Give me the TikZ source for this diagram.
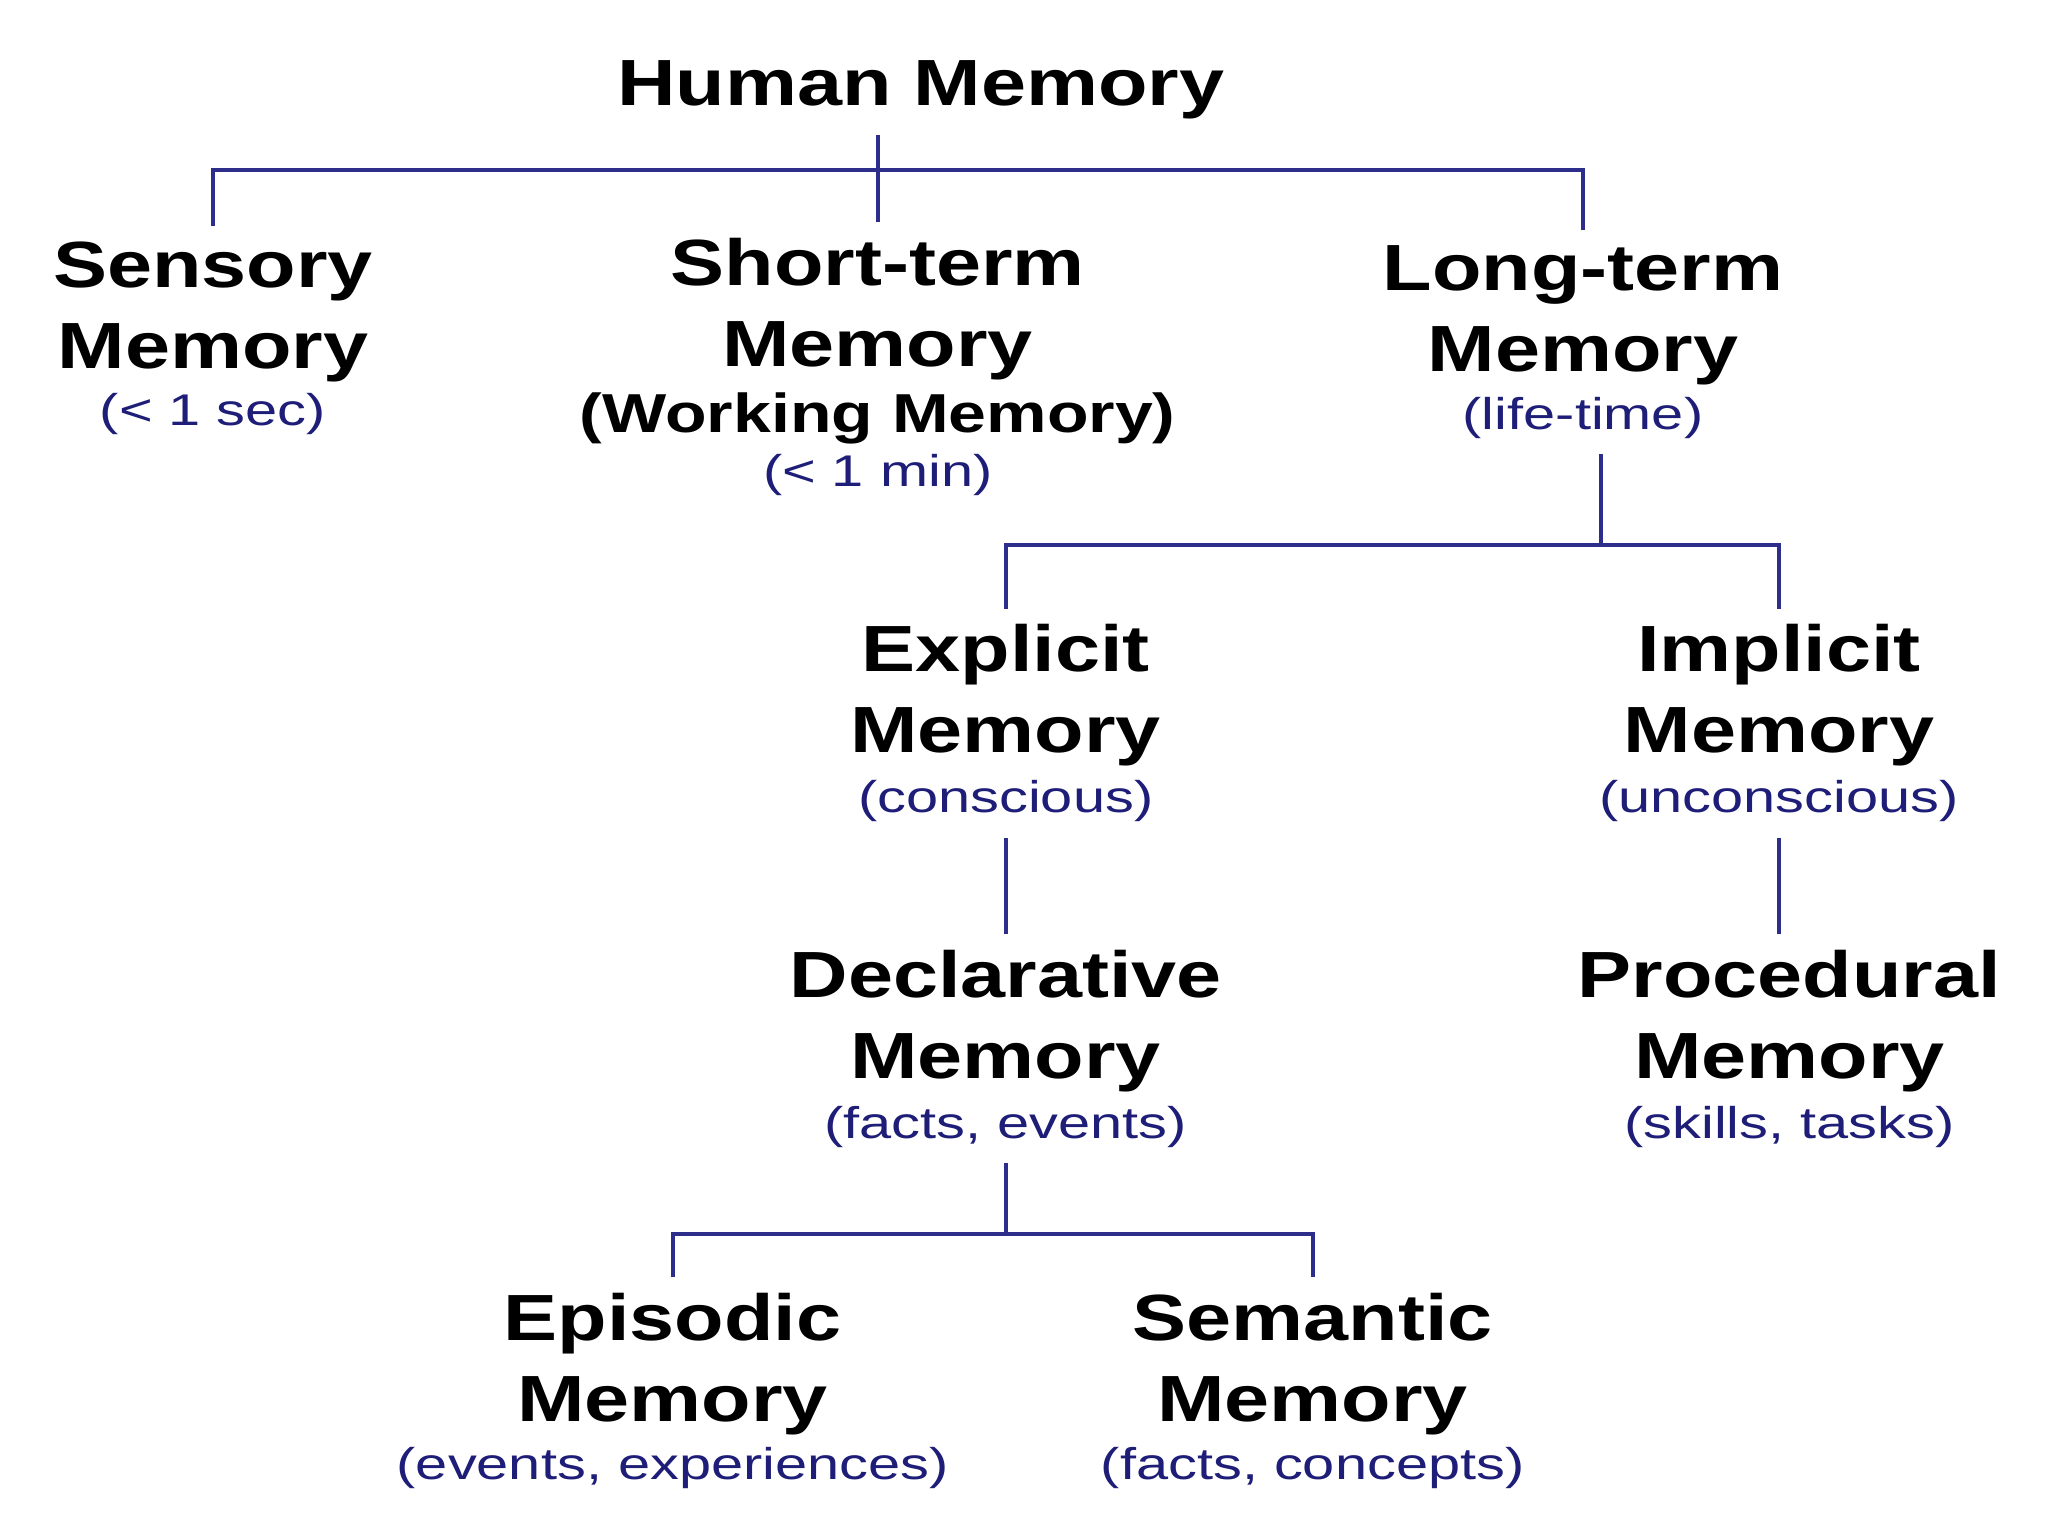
\documentclass[tikz,border=0pt]{standalone}
\usepackage{fontspec}
\setmainfont{Liberation Sans}
\newfontfamily\headfont[FakeStretch=1.24]{Liberation Sans}
\newfontfamily\subfont[FakeStretch=1.3]{Liberation Sans}
\usetikzlibrary{positioning, calc}

\newcommand{\sublabel}[1]{{\fontsize{34}{40}\selectfont\subfont\mdseries\color{subblue}#1}}
\newcommand{\altname}[1]{{\fontsize{42}{50}\selectfont #1}}

\begin{document}
\begin{tikzpicture}[x=1pt,y=-1pt,
    mem/.style={align=center, inner xsep=0pt, inner ysep=12pt, anchor=north,
        font=\fontsize{50}{62}\selectfont\headfont\bfseries},
    link/.style={draw=linkblue, line width=3pt}]

% Colors
\definecolor{linkblue}{RGB}{45,45,140}
\definecolor{subblue}{RGB}{30,30,120}

\useasboundingbox (0,0) rectangle (1568,1176);

% Title
\node[mem] (human) at (705,34) {Human Memory};

% First level
\node[mem] (sens) at (163,173) {Sensory\\Memory\\[-18pt]\sublabel{(< 1 sec)}};
\node[mem] (stm) at (672,170) {Short-term\\Memory\\[-11pt]\altname{(Working Memory)}\\[-21pt]\sublabel{(< 1 min)}};
\node[mem] (ltm) at (1212,176) {Long-term\\Memory\\[-18pt]\sublabel{(life-time)}};

% Long-term branches
\node[mem] (expl) at (770,466) {Explicit\\Memory\\[-16pt]\sublabel{(conscious)}};
\node[mem] (impl) at (1362,466) {Implicit\\Memory\\[-16pt]\sublabel{(unconscious)}};
\node[mem] (decl) at (770,715) {Declarative\\Memory\\[-16pt]\sublabel{(facts, events)}};
\node[mem] (proc) at (1370,715) {Procedural\\Memory\\[-16pt]\sublabel{(skills, tasks)}};

% Declarative branches
\node[mem] (epis) at (515,978) {Episodic\\Memory\\[-18pt]\sublabel{(events, experiences)}};
\node[mem] (sema) at (1005,978) {Semantic\\Memory\\[-18pt]\sublabel{(facts, concepts)}};

% Bars
\coordinate (topbar) at (0,130);
\coordinate (ltmbar) at (0,417);
\coordinate (declbar) at (0,945);

% Connections
\draw[link] (human.south -| stm.north) -- (stm.north);
\draw[link] (sens.north) -- (sens.north |- topbar) -| (ltm.north);

\draw[link] ([xshift=14pt]ltm.south) -- ([xshift=14pt]ltm.south |- ltmbar);
\draw[link] (expl.north) -- (expl.north |- ltmbar) -| (impl.north);

\draw[link] (expl.south) -- (decl.north);
\draw[link] (impl.south) -- (impl.south |- proc.north);

\draw[link] (decl.south) -- (decl.south |- declbar);
\draw[link] (epis.north) -- (epis.north |- declbar) -| (sema.north);

\end{tikzpicture}
\end{document}
